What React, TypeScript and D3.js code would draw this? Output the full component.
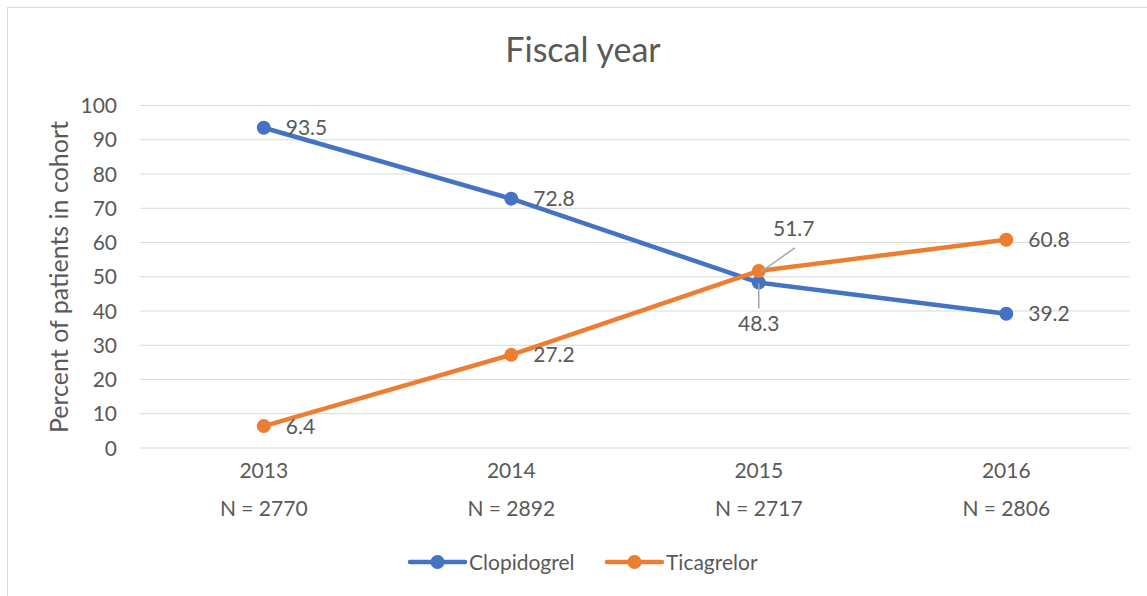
import React from "react";
import * as d3 from "d3";

const categories = ["2013", "2014", "2015", "2016"];
const cohortSizes = ["N = 2770", "N = 2892", "N = 2717", "N = 2806"];
const clopidogrel = [93.5, 72.8, 48.3, 39.2];
const ticagrelor = [6.4, 27.2, 51.7, 60.8];
const yTicks = [0, 10, 20, 30, 40, 50, 60, 70, 80, 90, 100];
const seriesNames = ["Clopidogrel", "Ticagrelor"];
const colors = ["#4472C4", "#ED7D31"];

const W = 1147, H = 596;
const FONT = "Lato, 'Open Sans', sans-serif";
const TXT = "#595959";
const FS = 21;

export default function App() {
  const x = d3.scaleBand<string>().domain(categories).range([140, 1130]);
  const y = d3.scaleLinear().domain([0, 100]).range([448, 105.5]);
  const cx = (c: string) => (x(c) as number) + x.bandwidth() / 2;
  const line = d3.line<number>().x((_, i) => cx(categories[i])).y((d) => y(d));
  const series = [clopidogrel, ticagrelor];

  return (
    <svg width={W} height={H} style={{ position: "absolute", left: 0, top: 0 }} fontFamily={FONT}>
      <rect x={0} y={0} width={W} height={H} fill="#fff" />
      <rect x={7.5} y={7.5} width={1150} height={600} fill="#fff" stroke="#d9d9d9" strokeWidth={1} />
      <text x={583} y={62} textAnchor="middle" fontSize={34} fill={TXT}>Fiscal year</text>
      {yTicks.map((t) => (
        <g key={t}>
          <line x1={140} x2={1130} y1={y(t)} y2={y(t)} stroke="#d9d9d9" strokeWidth={1} />
          <text x={117} y={y(t)} dy="0.36em" textAnchor="end" fontSize={FS} fill={TXT}>{t}</text>
        </g>
      ))}
      <text transform={`translate(68,277) rotate(-90)`} textAnchor="middle" fontSize={25} fill={TXT}>
        Percent of patients in cohort
      </text>
      {categories.map((c, i) => (
        <g key={c}>
          <text x={cx(c)} y={478} textAnchor="middle" fontSize={FS} fill={TXT}>{c}</text>
          <text x={cx(c)} y={516} textAnchor="middle" fontSize={FS} fill={TXT}>{cohortSizes[i]}</text>
        </g>
      ))}
      {series.map((s, k) => (
        <g key={k}>
          <path d={line(s) as string} fill="none" stroke={colors[k]} strokeWidth={4.5} strokeLinejoin="round" />
          {s.map((v, i) => (
            <circle key={i} cx={cx(categories[i])} cy={y(v)} r={7} fill={colors[k]} />
          ))}
        </g>
      ))}
      {series.map((s, k) =>
        s.map((v, i) => {
          const px = cx(categories[i]);
          const py = y(v);
          if (i === 2 && k === 1) {
            return (
              <g key={`${k}-${i}`}>
                <line x1={px + 2} y1={py + 1} x2={px + 36} y2={py - 23} stroke="#a6a6a6" strokeWidth={1.5} />
                <text x={px + 35} y={py - 42} dy="0.36em" textAnchor="middle" fontSize={FS} fill={TXT}>{v}</text>
              </g>
            );
          }
          if (i === 2 && k === 0) {
            return (
              <g key={`${k}-${i}`}>
                <line x1={px} y1={py + 1} x2={px} y2={py + 26} stroke="#a6a6a6" strokeWidth={1.5} />
                <text x={px} y={py + 41} dy="0.36em" textAnchor="middle" fontSize={FS} fill={TXT}>{v}</text>
              </g>
            );
          }
          return (
            <text key={`${k}-${i}`} x={px + 22} y={py} dy="0.36em" fontSize={FS} fill={TXT}>{v}</text>
          );
        })
      )}
      {seriesNames.map((n, k) => {
        const lx = [410, 607][k];
        return (
          <g key={n}>
            <line x1={lx} x2={lx + 55} y1={562} y2={562} stroke={colors[k]} strokeWidth={4.5} strokeLinecap="round" />
            <circle cx={lx + 27.5} cy={562} r={7} fill={colors[k]} />
            <text x={lx + 59} y={562} dy="0.36em" fontSize={FS} fill={TXT}>{n}</text>
          </g>
        );
      })}
    </svg>
  );
}
